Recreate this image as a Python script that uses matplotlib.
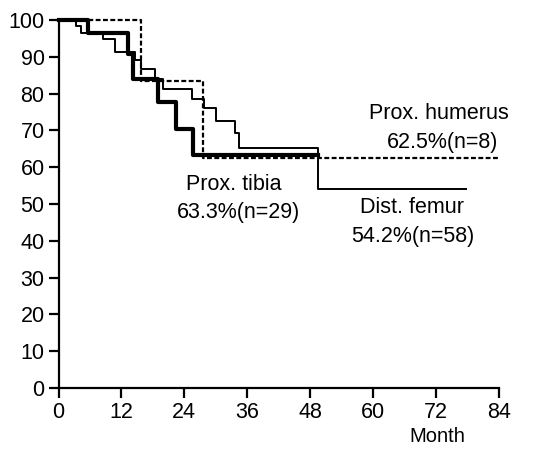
import matplotlib
matplotlib.use("Agg")
import matplotlib.pyplot as plt

# Data (months, survival %)
tibia_t = [0, 5.6, 13.2, 14.3, 19.0, 22.5, 25.7]
tibia_s = [100, 96.6, 90.8, 84.0, 77.7, 70.5, 63.3]
tibia_end = 49.5

femur_t = [0, 3.3, 4.3, 8.4, 10.8, 14.6, 15.8, 18.4, 20.0, 25.5, 27.8, 30.0, 33.7, 34.5, 49.5]
femur_s = [100, 98.3, 96.6, 94.8, 91.4, 89.0, 86.8, 84.0, 81.3, 78.4, 76.1, 72.6, 69.2, 65.3, 54.2]
femur_end = 77.8

humerus_t = [0, 15.7, 27.6]
humerus_s = [100, 83.3, 62.5]
humerus_end = 84.0

x_ticks = [0, 12, 24, 36, 48, 60, 72, 84]
y_ticks = [0, 10, 20, 30, 40, 50, 60, 70, 80, 90, 100]

plt.rcParams['font.family'] = ['Liberation Sans', 'DejaVu Sans']

W, H = 559, 451
fig = plt.figure(figsize=(W / 100, H / 100), dpi=100)
ax = fig.add_axes([58.5 / W, (H - 388) / H, (499 - 58.5) / W, (388 - 20) / H])


def steps(t, s, end):
    return list(t) + [end], list(s) + [s[-1]]


x, y = steps(humerus_t, humerus_s, humerus_end)
ax.step(x, y, where='post', color='black', lw=1.6, linestyle=(0, (2.2, 1.1)), clip_on=False)
x, y = steps(tibia_t, tibia_s, tibia_end)
ax.step(x, y, where='post', color='black', lw=3.0, clip_on=False)
x, y = steps(femur_t, femur_s, femur_end)
ax.step(x, y, where='post', color='black', lw=1.4, clip_on=False)

ax.set_xlim(0, 84)
ax.set_ylim(0, 100)
ax.set_xticks(x_ticks)
ax.set_yticks(y_ticks)
ax.spines['top'].set_visible(False)
ax.spines['right'].set_visible(False)
for sp in ('left', 'bottom'):
    ax.spines[sp].set_linewidth(1.6)
ax.tick_params(axis='both', direction='out', length=7, width=1.6, labelsize=15.5, pad=3)

fs = 15.5
ax.text(72.6, 74.6, "Prox. humerus", fontsize=fs, ha='center', va='center')
ax.text(73.3, 66.8, "62.5%(n=8)", fontsize=fs, ha='center', va='center')
ax.text(33.5, 55.4, "Prox. tibia", fontsize=fs, ha='center', va='center')
ax.text(34.4, 47.6, "63.3%(n=29)", fontsize=fs, ha='center', va='center')
ax.text(67.5, 49.0, "Dist. femur", fontsize=fs, ha='center', va='center')
ax.text(67.5, 41.3, "54.2%(n=58)", fontsize=fs, ha='center', va='center')

fig.text(437.5 / W, 1 - 437 / H, "Month", fontsize=14.5, ha='center', va='center')

fig.savefig("out.png", dpi=100)
